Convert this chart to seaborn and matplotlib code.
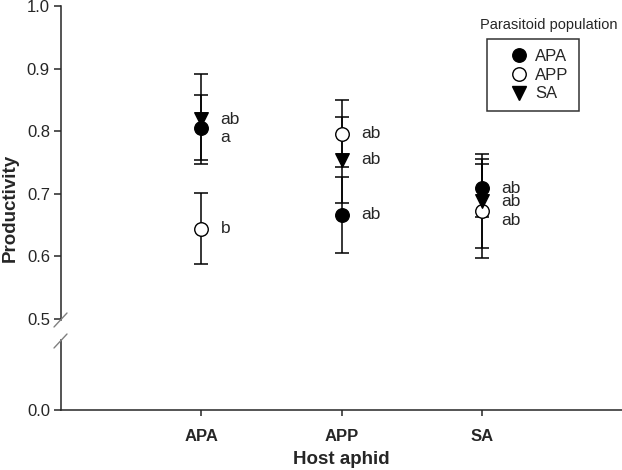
import matplotlib
matplotlib.use("Agg")
import matplotlib.pyplot as plt
import seaborn as sns
import pandas as pd
from matplotlib.lines import Line2D

# ---------------- data ----------------
hosts = ["APA", "APP", "SA"]                 # host aphid (x categories)
populations = ["APA", "APP", "SA"]           # parasitoid population (series)
mean_apa = [0.805, 0.666, 0.709]
mean_app = [0.644, 0.796, 0.672]
mean_sa = [0.819, 0.754, 0.688]
err_apa = [0.052, 0.061, 0.047]
err_app = [0.057, 0.053, 0.075]
err_sa = [0.072, 0.069, 0.075]
letters_apa = ["a", "ab", "ab"]
letters_app = ["b", "ab", "ab"]
letters_sa = ["ab", "ab", "ab"]
y_ticks_top = [0.5, 0.6, 0.7, 0.8, 0.9, 1.0]
y_ticks_bottom = [0.0]

means = {"APA": mean_apa, "APP": mean_app, "SA": mean_sa}
errs = {"APA": err_apa, "APP": err_app, "SA": err_sa}
letters = {"APA": letters_apa, "APP": letters_app, "SA": letters_sa}

rows = []
for i, h in enumerate(hosts):
    for p in populations:
        rows.append({"host": h, "xpos": i + 1, "pop": p,
                     "mean": means[p][i], "err": errs[p][i],
                     "letter": letters[p][i]})
df = pd.DataFrame(rows)

# ---------------- style ----------------
sns.set_style("ticks")
plt.rcParams["font.family"] = ["Liberation Sans", "DejaVu Sans"]
plt.rcParams["axes.linewidth"] = 1.1

W, H = 622, 470
fig = plt.figure(figsize=(W / 100, H / 100), dpi=100)
left = 61 / W
ax_top = fig.add_axes([left, 1 - 320 / H, 1 - left, (320 - 6) / H])
ax_bot = fig.add_axes([left, 1 - 410 / H, 1 - left, (410 - 340) / H])

markers = {"APA": "o", "APP": "o", "SA": "v"}
faces = {"APA": "black", "APP": "white", "SA": "black"}
order_draw = ["APP", "SA", "APA"]

for p in order_draw:
    sub = df[df["pop"] == p]
    ax_top.errorbar(sub["xpos"], sub["mean"], yerr=sub["err"], fmt="none",
                    ecolor="black", elinewidth=1.1, capsize=4.8,
                    capthick=1.1, zorder=2)
for p in order_draw:
    sub = df[df["pop"] == p]
    sns.scatterplot(data=sub, x="xpos", y="mean", marker=markers[p],
                    color=faces[p], edgecolor="black", linewidth=1.0,
                    s=95, ax=ax_top, legend=False, zorder=3)

# significance letters
label_dy = {("APA", "APA"): -7, ("SA", "APP"): -6.5, ("SA", "SA"): -0.5}
for _, r in df.iterrows():
    dy = label_dy.get((r["host"], r["pop"]), 0)
    ax_top.annotate(r["letter"], (r["xpos"], r["mean"]),
                    xytext=(14, dy), textcoords="offset points",
                    ha="left", va="center", fontsize=12.5)

# ---------------- axes ----------------
for ax in (ax_top, ax_bot):
    ax.set_xlim(0, 4)
    ax.spines["right"].set_visible(False)
    ax.spines["top"].set_visible(False)
    ax.set_facecolor("none")
    ax.set_xlabel("")
    ax.set_ylabel("")

ax_top.set_ylim(0.498, 1.0)
ax_top.spines["bottom"].set_visible(False)
ax_top.set_xticks([])
ax_top.set_yticks(y_ticks_top)
ax_top.set_yticklabels([f"{v:.1f}" for v in y_ticks_top])
ax_top.tick_params(axis="y", length=5, width=1.1, pad=3, labelsize=12)

ax_bot.set_ylim(0, 0.1)
ax_bot.set_yticks(y_ticks_bottom)
ax_bot.set_yticklabels([f"{v:.1f}" for v in y_ticks_bottom])
ax_bot.tick_params(axis="y", length=5, width=1.1, pad=3, labelsize=12)
ax_bot.set_xticks(range(1, len(hosts) + 1))
ax_bot.set_xticklabels(hosts, fontweight="bold")
ax_bot.tick_params(axis="x", length=4, width=1.1, pad=10, labelsize=12)

# axis break marks
def px_line(x0, y0, x1, y1):
    fig.add_artist(Line2D([x0 / W, x1 / W], [1 - y0 / H, 1 - y1 / H],
                          transform=fig.transFigure, color="#808080", lw=1.0))

px_line(54, 327, 67, 313)
px_line(54, 348, 67, 334)

fig.text(10 / W, 1 - 208 / H, "Productivity", rotation=90, ha="center",
         va="center", fontsize=13.5, fontweight="bold")
fig.text(341 / W, 1 - 459 / H, "Host aphid", ha="center", va="center",
         fontsize=13.5, fontweight="bold")

# legend
handles = [Line2D([], [], linestyle="none", marker=markers[p],
                  markerfacecolor=faces[p], markeredgecolor="black",
                  markersize=9.7, markeredgewidth=1.0) for p in populations]
leg = fig.legend(handles, populations, loc="upper left",
                 bbox_to_anchor=(487 / W, 1 - 39 / H),
                 bbox_transform=fig.transFigure, borderaxespad=0,
                 frameon=True, fancybox=False, edgecolor="black",
                 fontsize=12, handlelength=2.6, handletextpad=-0.3,
                 labelspacing=0.22, borderpad=0.6)
leg.get_frame().set_linewidth(1.1)
fig.text(549 / W, 1 - 25 / H, "Parasitoid population", ha="center",
         va="center", fontsize=10.5)

fig.savefig("out.png", dpi=100)
